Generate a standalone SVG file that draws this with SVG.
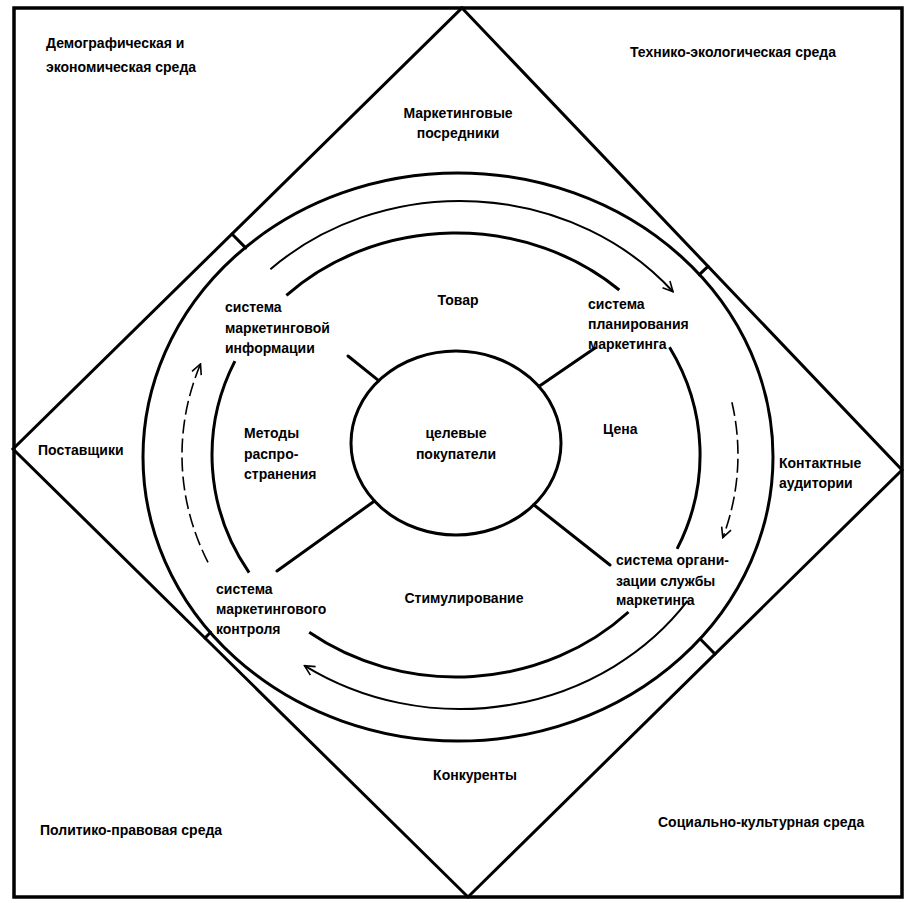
<svg xmlns="http://www.w3.org/2000/svg" width="905" height="903" viewBox="0 0 905 903">
<style>
text{font-family:"Liberation Sans",Arial,sans-serif;font-size:14px;font-weight:bold;fill:#000}
.c{text-anchor:middle}
.ring{fill:none;stroke:#000;stroke-width:3}
.thick{fill:none;stroke:#000;stroke-width:3;stroke-linecap:round}
.flow{fill:none;stroke:#000;stroke-width:2;marker-end:url(#arr)}
.dash{fill:none;stroke:#000;stroke-width:1.6;stroke-dasharray:14 5;marker-end:url(#arr)}
</style>
<defs>
<marker id="arr" viewBox="0 0 12 12" refX="11" refY="6" markerWidth="12" markerHeight="12" markerUnits="userSpaceOnUse" orient="auto">
<path d="M1,1 L11,6 L1,11" fill="none" stroke="#000" stroke-width="1.6"/>
</marker>
</defs>
<rect width="905" height="903" fill="#fff"/>
<g id="frame"><rect x="14" y="8" width="888" height="889" fill="none" stroke="#000" stroke-width="3.5"/></g>
<g id="diamond"><polygon points="462,8 902,470 468,897 13,449" fill="none" stroke="#000" stroke-width="3"/></g>
<g id="outer-ring"><ellipse cx="458" cy="457" rx="315" ry="284" class="ring"/></g>
<g id="inner-ring">
<path class="ring" d="M286.4,295.4 A244,222 0 0 1 619.3,290"/>
<path class="ring" d="M669.5,347.3 A244,222 0 0 1 677.1,548.9"/>
<path class="ring" d="M628.5,612 A244,222 0 0 1 309.2,632.3"/>
<path class="ring" d="M249.1,572.6 A244,222 0 0 1 234.9,361.1"/>
</g>
<g id="target"><ellipse cx="456" cy="443" rx="105" ry="92" class="ring"/>
<text class="c" x="456" y="438">целевые</text><text class="c" x="456" y="459">покупатели</text></g>
<g id="connectors">
<line class="thick" x1="348" y1="356" x2="378.7" y2="380.7"/>
<line class="thick" x1="595" y1="348" x2="538.8" y2="386.4"/>
<line class="thick" x1="277" y1="571" x2="374.5" y2="501"/>
<line class="thick" x1="610" y1="565" x2="533.8" y2="504.8"/>
<line class="thick" x1="232" y1="234" x2="245.7" y2="247.9"/>
<line class="thick" x1="708" y1="266.3" x2="699.3" y2="274.6"/>
<line class="thick" x1="715" y1="654" x2="700.3" y2="639"/>
<line class="thick" x1="205" y1="638" x2="210.6" y2="632.3"/>
<path class="flow" d="M270.4,269.2 A278,254 0 0 1 673,291.7"/>
<path class="dash" d="M731.9,402.2 A278,254 0 0 1 722.8,537.7"/>
<path class="flow" d="M687.7,600.7 A278,254 0 0 1 304.5,665.6"/>
<path class="dash" d="M208,562.4 A278,254 0 0 1 200.5,364"/>
</g>
<g id="env-demo"><text x="46" y="48">Демографическая и</text><text x="46" y="72">экономическая среда</text></g>
<g id="env-tech"><text x="630" y="57">Технико-экологическая среда</text></g>
<g id="env-pol"><text x="40" y="835">Политико-правовая среда</text></g>
<g id="env-soc"><text x="658" y="827">Социально-культурная среда</text></g>
<g id="intermediaries"><text class="c" x="458" y="118">Маркетинговые</text><text class="c" x="458" y="138">посредники</text></g>
<g id="suppliers"><text x="38" y="455">Поставщики</text></g>
<g id="audiences"><text x="779" y="468">Контактные</text><text x="779" y="488">аудитории</text></g>
<g id="competitors"><text class="c" x="475" y="780">Конкуренты</text></g>
<g id="product"><text class="c" x="458" y="305">Товар</text></g>
<g id="price"><text x="603" y="434">Цена</text></g>
<g id="place"><text x="244" y="438">Методы</text><text x="244" y="459">распро-</text><text x="244" y="479">странения</text></g>
<g id="promotion"><text class="c" x="464" y="603">Стимулирование</text></g>
<g id="info-system"><text x="225" y="312">система</text><text x="225" y="333">маркетинговой</text><text x="225" y="353">информации</text></g>
<g id="planning-system"><text x="588" y="309">система</text><text x="588" y="329">планирования</text><text x="588" y="349">маркетинга</text></g>
<g id="org-system"><text x="616" y="565">система органи-</text><text x="616" y="586">зации службы</text><text x="616" y="605">маркетинга</text></g>
<g id="control-system"><text x="216" y="594">система</text><text x="216" y="614">маркетингового</text><text x="216" y="634">контроля</text></g>
</svg>
